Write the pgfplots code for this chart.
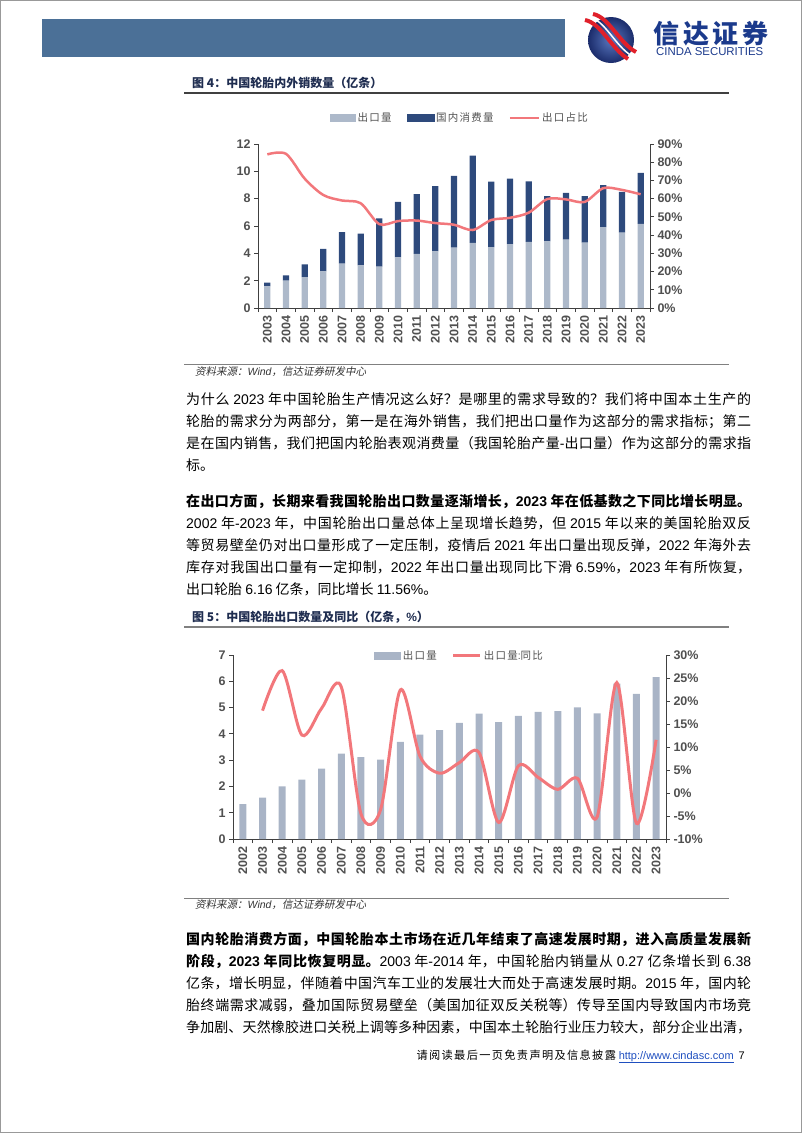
\documentclass[border=0pt]{standalone}
\usepackage{fontspec}
\usepackage{pgfplots}
\pgfplotsset{compat=1.18}
\setmainfont{Liberation Sans}
\newfontfamily\cjk{Noto Sans CJK SC}
\newfontfamily\cjkls[LetterSpace=12]{Noto Sans CJK SC}
\newfontfamily\cjkwide[LetterSpace=15]{Noto Sans CJK SC}
\newfontfamily\cjkit[FakeSlant=0.2]{Noto Sans CJK SC}
\newcommand\lat[1]{{\rmfamily #1}}
\XeTeXlinebreaklocale "zh"
\XeTeXlinebreakskip=0pt plus 2pt minus 0.4pt
\definecolor{hdrblue}{HTML}{4B7097}
\definecolor{logoin}{HTML}{5A78C0}
\definecolor{logoout}{HTML}{1B2C6B}
\definecolor{logored}{HTML}{E0202A}
\definecolor{logotext}{HTML}{1B3A8C}
\definecolor{titlec}{HTML}{1F2D50}
\definecolor{c1light}{HTML}{ADB9CA}
\definecolor{c1dark}{HTML}{2E4A7C}
\definecolor{c2bar}{HTML}{A9B4C6}
\definecolor{linepink}{HTML}{F2777B}
\definecolor{tickc}{HTML}{505050}
\definecolor{axisc}{HTML}{404040}
\definecolor{urlblue}{HTML}{1F4FBF}
\newcommand\tickf{\fontsize{12.5}{13}\selectfont\bfseries}
\newcommand\legf{\fontsize{10.5}{12}\selectfont\cjkls}
\newcommand\titlef{\fontsize{12}{14}\selectfont\cjk\bfseries}
\newcommand\srcf{\fontsize{10.5}{12}\selectfont\cjkit}
\newcommand\bodytext[1]{\parbox[t]{565pt}{\fontsize{14}{22}\selectfont\cjk #1}}
\begin{document}
\begin{tikzpicture}[x=1pt,y=-1pt]
\path[use as bounding box] (0,0) rectangle (802,1133);
\draw[gray!80, line width=1pt] (0.5,0.5) rectangle (801.5,1132.5);
% header
\fill[hdrblue] (42,19) rectangle (565,57);
\shade[inner color=logoin, outer color=logoout] (611,40) circle (23pt);
\draw[logored, line width=4pt] (585,20) .. controls (601,23) and (611,48) .. (628,59);
\draw[white, line width=1.5pt] (589,17) .. controls (605,20) and (615,46) .. (632,56);
\draw[logored, line width=4pt] (593,14) .. controls (609,17) and (619,43) .. (636,52);
\node[anchor=west, inner sep=0pt, text=logotext, font=\fontsize{26}{26}\selectfont\cjkwide\bfseries] at (653,34) {信达证券};
\node[anchor=west, inner sep=0pt, text=logotext, font=\fontsize{11.4}{12}\selectfont] at (656,52) {CINDA SECURITIES};
% chart 1 title
\node[anchor=west, inner sep=0pt, text=titlec, font=\titlef] at (192,83) {图 4：中国轮胎内外销数量（亿条）};
\draw[line width=1.3pt, black!75] (184,93) -- (729,93);
% chart 1
\begin{axis}[
  at={(258pt,-308pt)}, anchor=south west,
  width=392pt, height=164pt, scale only axis,
  xmin=-0.5, xmax=20.5, ymin=0, ymax=12,
  axis x line*=bottom, axis y line*=left,
  axis line style={-, draw=axisc, line width=0.9pt},
  tick align=outside, major tick length=4pt, minor tick length=4pt,
  tick style={draw=axisc, line width=0.9pt},
  xtick={0,...,20},
  xticklabels={2003,2004,2005,2006,2007,2008,2009,2010,2011,2012,2013,2014,2015,2016,2017,2018,2019,2020,2021,2022,2023},
  major x tick style={draw=none},
  minor xtick={-0.5,0.5,...,20.5},
  ytick={0,2,...,12},
  /pgf/number format/assume math mode=true,
  tick label style={font=\tickf, text=tickc},
  x tick label style={rotate=90, anchor=east},
  ybar stacked, bar width=6.3pt,
  clip=false,
]
\addplot[fill=c1light, draw=none] coordinates {(0,1.58) (1,2.00) (2,2.26) (3,2.68) (4,3.25) (5,3.12) (6,3.02) (7,3.70) (8,3.97) (9,4.14) (10,4.42) (11,4.77) (12,4.45) (13,4.68) (14,4.84) (15,4.87) (16,5.01) (17,4.78) (18,5.91) (19,5.52) (20,6.16)};
\addplot[fill=c1dark, draw=none] coordinates {(0,0.27) (1,0.39) (2,0.93) (3,1.65) (4,2.30) (5,2.33) (6,3.53) (7,4.07) (8,4.36) (9,4.77) (10,5.24) (11,6.38) (12,4.80) (13,4.79) (14,4.43) (15,3.31) (16,3.41) (17,3.40) (18,3.09) (19,2.98) (20,3.72)};
\end{axis}
\begin{axis}[
  at={(258pt,-308pt)}, anchor=south west,
  width=392pt, height=164pt, scale only axis,
  xmin=-0.5, xmax=20.5, ymin=0, ymax=90,
  axis x line=none, axis y line*=right,
  axis line style={-, draw=axisc, line width=0.9pt},
  tick align=outside, major tick length=4pt,
  tick style={draw=axisc, line width=0.9pt},
  ytick={0,10,...,90},
  yticklabel={\pgfmathprintnumber{\tick}\%},
  /pgf/number format/assume math mode=true,
  tick label style={font=\tickf, text=tickc},
  legend style={at={(axis description cs:0.184,1.159)}, anchor=west, draw=none, fill=none, inner sep=0pt, font=\legf, text=tickc, legend columns=3, /tikz/every even column/.append style={column sep=13pt}, nodes={inner sep=2pt}},
  legend cell align=left,
  clip=false,
]
\addlegendimage{legend image code/.code={\fill[c1light] (0pt,-3.5pt) rectangle (25pt,3.5pt);}}
\addlegendentry{出口量}
\addlegendimage{legend image code/.code={\fill[c1dark] (0pt,-3.5pt) rectangle (27pt,3.5pt);}}
\addlegendentry{国内消费量}
\addplot[smooth, color=linepink, line width=2.5pt, legend image code/.code={\draw[linepink, line width=2.5pt] (0pt,0pt) -- (29pt,0pt);}] coordinates {(0,84.3) (1,84.6) (2,71.0) (3,62.0) (4,59.0) (5,57.5) (6,46.0) (7,47.7) (8,48.0) (9,46.6) (10,45.7) (11,42.8) (12,48.3) (13,49.5) (14,52.3) (15,59.8) (16,59.6) (17,58.2) (18,65.8) (19,64.8) (20,62.4)};
\addlegendentry{出口占比}
\end{axis}
% source 1
\draw[gray, line width=0.8pt] (184,364) -- (729,364);
\node[anchor=west, inner sep=0pt, text=black!80, font=\srcf] at (195,372) {资料来源：\lat{\itshape Wind}，信达证券研发中心};
% paragraph 1
\node[anchor=base west, inner sep=0pt] at (186,404.5) {\bodytext{为什么 \lat{2023} 年中国轮胎生产情况这么好？是哪里的需求导致的？我们将中国本土生产的\linebreak%
轮胎的需求分为两部分，第一是在海外销售，我们把出口量作为这部分的需求指标；第二\linebreak%
是在国内销售，我们把国内轮胎表观消费量（我国轮胎产量\lat{-}出口量）作为这部分的需求指\linebreak%
标。}};
% paragraph 2
\node[anchor=base west, inner sep=0pt] at (186,506.5) {\bodytext{{\bfseries 在出口方面，长期来看我国轮胎出口数量逐渐增长，\lat{2023} 年在低基数之下同比增长明显。}\linebreak%
\lat{2002} 年\lat{-2023} 年，中国轮胎出口量总体上呈现增长趋势，但 \lat{2015} 年以来的美国轮胎双反\linebreak%
等贸易壁垒仍对出口量形成了一定压制，疫情后 \lat{2021} 年出口量出现反弹，\lat{2022} 年海外去\linebreak%
库存对我国出口量有一定抑制，\lat{2022} 年出口量出现同比下滑 \lat{6.59\%}，\lat{2023} 年有所恢复，\linebreak%
出口轮胎 \lat{6.16} 亿条，同比增长 \lat{11.56\%}。}};
% chart 2 title
\node[anchor=west, inner sep=0pt, text=titlec, font=\titlef] at (192,617) {图 5：中国轮胎出口数量及同比（亿条，\lat{\%}）};
\draw[line width=1.1pt, gray] (184,627) -- (729,627);
% chart 2
\begin{axis}[
  at={(233pt,-839pt)}, anchor=south west,
  width=433pt, height=184pt, scale only axis,
  xmin=-0.5, xmax=21.5, ymin=0, ymax=7,
  axis x line*=bottom, axis y line*=left,
  axis line style={-, draw=axisc, line width=0.9pt},
  tick align=outside, major tick length=4pt, minor tick length=4pt,
  tick style={draw=axisc, line width=0.9pt},
  xtick={0,...,21},
  xticklabels={2002,2003,2004,2005,2006,2007,2008,2009,2010,2011,2012,2013,2014,2015,2016,2017,2018,2019,2020,2021,2022,2023},
  major x tick style={draw=none},
  minor xtick={-0.5,0.5,...,21.5},
  ytick={0,1,...,7},
  /pgf/number format/assume math mode=true,
  tick label style={font=\tickf, text=tickc},
  x tick label style={rotate=90, anchor=east},
  ybar, bar width=7pt,
  clip=false,
]
\addplot[fill=c2bar, draw=none] coordinates {(0,1.33) (1,1.57) (2,2.00) (3,2.26) (4,2.68) (5,3.25) (6,3.12) (7,3.02) (8,3.70) (9,3.97) (10,4.14) (11,4.42) (12,4.77) (13,4.45) (14,4.68) (15,4.84) (16,4.87) (17,5.01) (18,4.78) (19,5.91) (20,5.52) (21,6.16)};
\end{axis}
\begin{axis}[
  at={(233pt,-839pt)}, anchor=south west,
  width=433pt, height=184pt, scale only axis,
  xmin=-0.5, xmax=21.5, ymin=-10, ymax=30,
  axis x line=none, axis y line*=right,
  axis line style={-, draw=axisc, line width=0.9pt},
  tick align=outside, major tick length=4pt,
  tick style={draw=axisc, line width=0.9pt},
  ytick={-10,-5,0,5,10,15,20,25,30},
  yticklabels={-10\%,-5\%,0\%,5\%,10\%,15\%,20\%,25\%,30\%},
  tick label style={font=\tickf, text=tickc},
  legend style={at={(axis description cs:0.326,0.995)}, anchor=west, draw=none, fill=none, inner sep=0pt, font=\legf, text=tickc, legend columns=2, /tikz/every even column/.append style={column sep=13pt}, nodes={inner sep=2pt}},
  legend cell align=left,
  clip=false,
]
\addlegendimage{legend image code/.code={\fill[c2bar] (0pt,-3.5pt) rectangle (26pt,3.5pt);}}
\addlegendentry{出口量}
\addplot[smooth, color=linepink, line width=3pt, legend image code/.code={\draw[linepink, line width=3pt] (0pt,0pt) -- (27pt,0pt);}] coordinates {(1,17.9) (2,26.6) (3,12.6) (4,18.4) (5,23.1) (6,-4.5) (7,-3.6) (8,22.4) (9,8.0) (10,4.3) (11,6.6) (12,8.8) (13,-6.4) (14,5.9) (15,3.4) (16,0.8) (17,3.2) (18,-5.2) (19,24.0) (20,-6.59) (21,11.56)};
\addlegendentry{出口量\lat{:}同比}
\end{axis}
% source 2
\draw[gray, line width=0.8pt] (184,898) -- (729,898);
\node[anchor=west, inner sep=0pt, text=black!80, font=\srcf] at (195,905) {资料来源：\lat{\itshape Wind}，信达证券研发中心};
% paragraph 3
\node[anchor=base west, inner sep=0pt] at (186,944.5) {\bodytext{{\bfseries 国内轮胎消费方面，中国轮胎本土市场在近几年结束了高速发展时期，进入高质量发展新}\linebreak%
{\bfseries 阶段，\lat{2023} 年同比恢复明显。}\lat{2003} 年\lat{-2014} 年，中国轮胎内销量从 \lat{0.27} 亿条增长到 \lat{6.38}\linebreak%
亿条，增长明显，伴随着中国汽车工业的发展壮大而处于高速发展时期。\lat{2015} 年，国内轮\linebreak%
胎终端需求减弱，叠加国际贸易壁垒（美国加征双反关税等）传导至国内导致国内市场竞\linebreak%
争加剧、天然橡胶进口关税上调等多种因素，中国本土轮胎行业压力较大，部分企业出清，{\parfillskip=0pt\par}}};
% footer
\node[anchor=base east, inner sep=0pt] at (745,1059) {{\fontsize{11.2}{13}\selectfont\cjkls 请阅读最后一页免责声明及信息披露} {\fontsize{11}{13}\selectfont\color{urlblue}\underline{http://www.cindasc.com}}\hspace{5pt}{\fontsize{11}{13}\selectfont 7}};
\end{tikzpicture}
\end{document}
